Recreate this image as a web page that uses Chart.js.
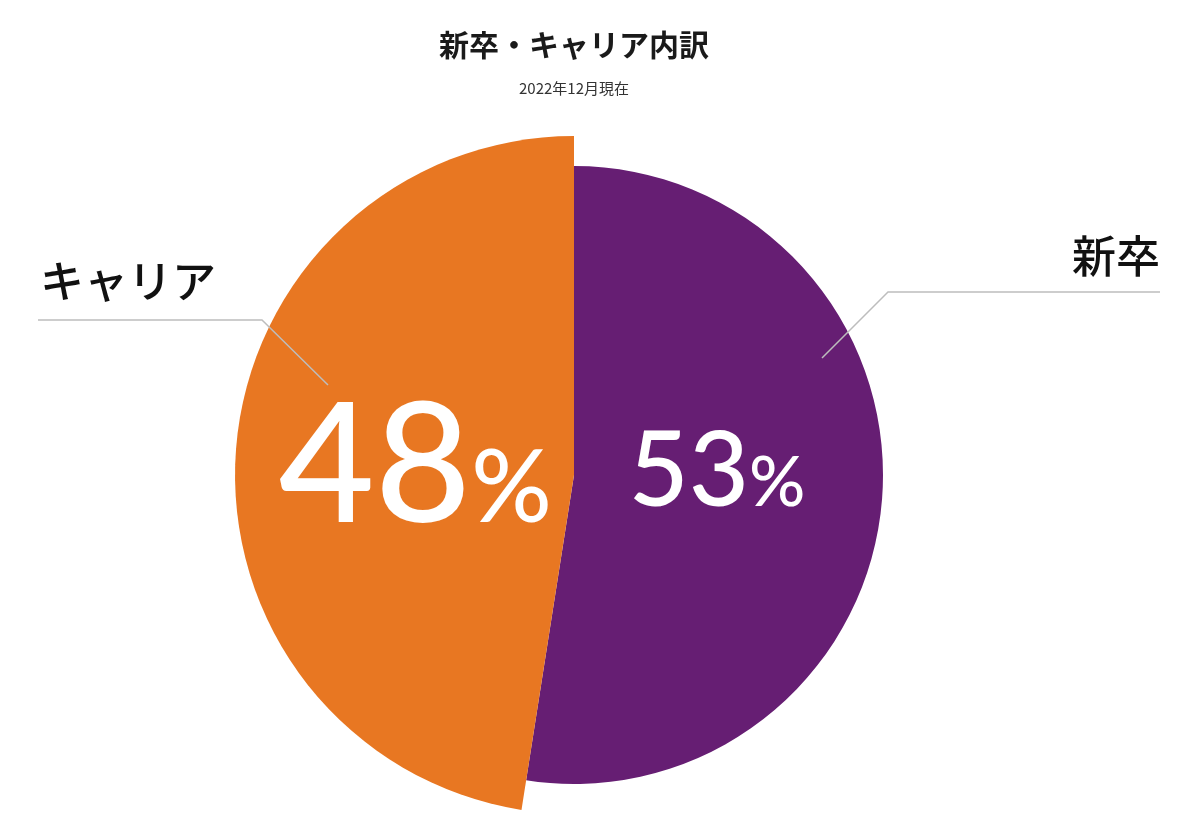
<!DOCTYPE html>
<html lang="ja">
<head>
<meta charset="utf-8">
<title>新卒・キャリア内訳</title>
<script src="https://cdn.jsdelivr.net/npm/chart.js@4.4.1/dist/chart.umd.min.js"></script>
<style>
html, body { margin: 0; padding: 0; background: #fff; }
#wrap { width: 1200px; height: 814px; }
</style>
</head>
<body>
<div id="wrap"><canvas id="pie-chart"></canvas></div>
<script>
var categories = ["新卒", "キャリア"];
var values = [53, 48];
var colors = ["#661e73", "#e87722"];
var chartTitle = "新卒・キャリア内訳";
var chartSubtitle = "2022年12月現在";

// orange slice is drawn a bit bigger than the purple one
var radiusScale = [1, 1.097];

// white percentage labels
var numSize = [104, 166];
var pctSize = [70, 100];
var labelRadius = [0.464, 0.47];
var labelShiftY = [-18, 0];

// leader lines, offsets from the pie centre
var callouts = [
	{ inner: [248, -117], elbow: [314, -183], endX: 586, textX: 586, textY: -219, align: "right" },
	{ inner: [-246, -90], elbow: [-312, -155], endX: -536, textX: -534, textY: -194, align: "left" }
];

var calloutPlugin = {
	id: "callouts",
	afterDatasetsUpdate: function(chart) {
		var meta = chart.getDatasetMeta(0);
		meta.data.forEach(function(arc, i) {
			arc.outerRadius = arc.outerRadius * radiusScale[i];
		});
	},
	afterDatasetsDraw: function(chart) {
		var ctx = chart.ctx;
		var meta = chart.getDatasetMeta(0);
		var cx = meta.data[0].x;
		var cy = meta.data[0].y;
		ctx.save();

		meta.data.forEach(function(arc, i) {
			var mid = (arc.startAngle + arc.endAngle) / 2;
			var r = arc.outerRadius * labelRadius[i];
			var x = cx + Math.cos(mid) * r;
			var y = cy + Math.sin(mid) * r + labelShiftY[i];
			var num = String(values[i]);

			ctx.fillStyle = "#ffffff";
			ctx.textBaseline = "alphabetic";
			ctx.textAlign = "left";
			ctx.font = "500 " + numSize[i] + "px Lato";
			var w1 = ctx.measureText(num).width;
			ctx.font = "500 " + pctSize[i] + "px Lato";
			var w2 = ctx.measureText("%").width;
			var left = x - (w1 + w2) / 2;
			var base = y + numSize[i] * 0.36;
			ctx.font = "500 " + numSize[i] + "px Lato";
			ctx.fillText(num, left, base);
			ctx.font = "500 " + pctSize[i] + "px Lato";
			ctx.fillText("%", left + w1, base);
		});

		callouts.forEach(function(c, i) {
			ctx.strokeStyle = "#bdbdbd";
			ctx.lineWidth = 1.5;
			ctx.beginPath();
			ctx.moveTo(cx + c.inner[0], cy + c.inner[1]);
			ctx.lineTo(cx + c.elbow[0], cy + c.elbow[1]);
			ctx.lineTo(cx + c.endX, cy + c.elbow[1]);
			ctx.stroke();

			ctx.fillStyle = "#111111";
			ctx.font = "500 44px 'Noto Sans CJK JP'";
			ctx.textAlign = c.align;
			ctx.textBaseline = "middle";
			ctx.fillText(categories[i], cx + c.textX, cy + c.textY);
		});
		ctx.restore();
	}
};

new Chart(document.getElementById("pie-chart"), {
	type: "pie",
	data: {
		labels: categories,
		datasets: [{
			data: values,
			backgroundColor: colors,
			borderWidth: 0,
			clip: false
		}]
	},
	options: {
		responsive: true,
		maintainAspectRatio: false,
		animation: false,
		events: [],
		layout: {
			padding: { left: 0, right: 52, top: 0, bottom: 30 }
		},
		plugins: {
			legend: { display: false },
			tooltip: { enabled: false },
			title: {
				display: true,
				text: chartTitle,
				color: "#1a1a1a",
				font: { family: "'Noto Sans CJK JP'", size: 30, weight: "bold" },
				padding: { top: 27, bottom: 16 }
			},
			subtitle: {
				display: true,
				text: chartSubtitle,
				color: "#333333",
				font: { family: "'Noto Sans CJK JP'", size: 15 },
				padding: { top: 0, bottom: 69 }
			}
		}
	},
	plugins: [calloutPlugin]
});
</script>
</body>
</html>
